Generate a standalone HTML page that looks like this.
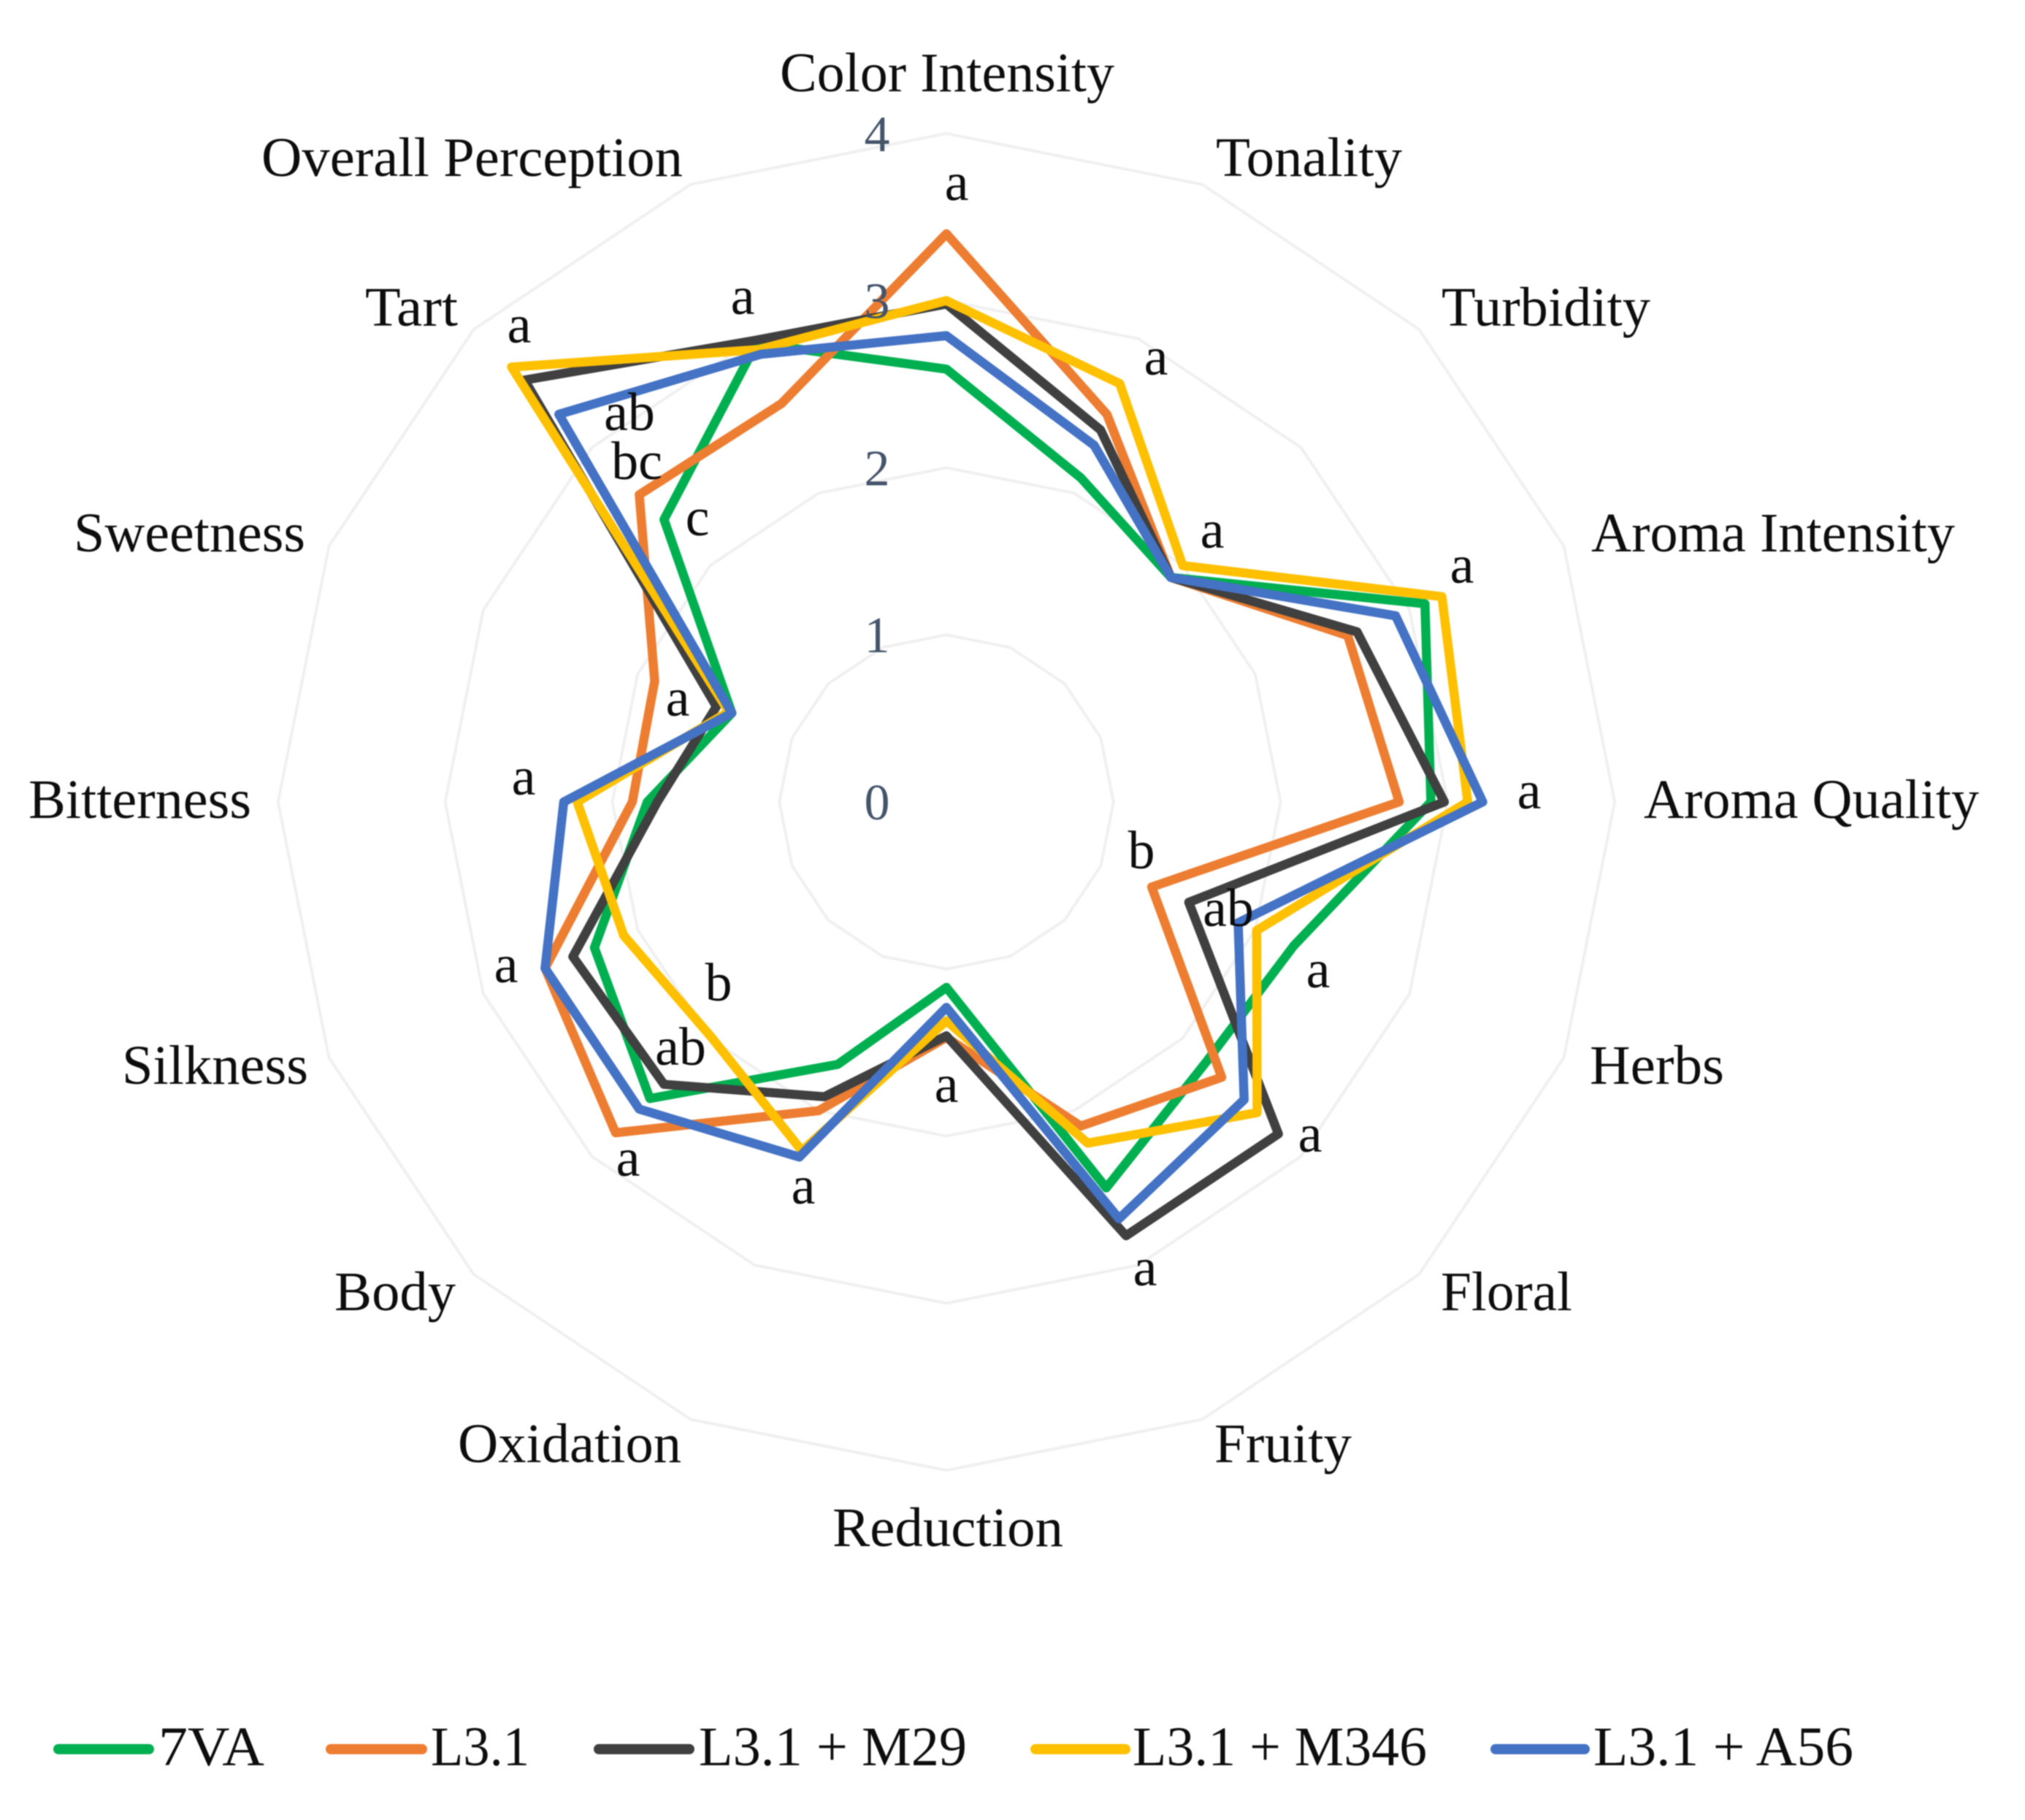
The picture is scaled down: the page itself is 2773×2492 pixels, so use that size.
<!DOCTYPE html>
<html lang="en">
<head>
<meta charset="utf-8">
<title>Sensory radar chart</title>
<style>
html,body{margin:0;padding:0;background:#fff;width:2773px;height:2492px;overflow:hidden}
svg{display:block;filter:blur(0.8px)}
text{font-family:"Liberation Serif",serif;fill:#0d0d0d}
.cat{font-size:76px}
.sig{font-size:74px;text-anchor:middle}
.leg{font-size:76px}
.tick{font-size:70px;text-anchor:middle;fill:#44546A}
</style>
</head>
<body>
<svg id="chart" xmlns="http://www.w3.org/2000/svg" width="2773" height="2492" viewBox="0 0 2773 2492">
  <rect width="2773" height="2492" fill="#fff"/>
  <g id="grid"></g>
  <g id="series"></g>
  <g id="ticks"></g>

  <g>
    <text class="cat" x="1068" y="125" textLength="458" lengthAdjust="spacingAndGlyphs">Color Intensity</text>
    <text class="cat" x="1665" y="241" textLength="255" lengthAdjust="spacingAndGlyphs">Tonality</text>
    <text class="cat" x="1974" y="446" textLength="286" lengthAdjust="spacingAndGlyphs">Turbidity</text>
    <text class="cat" x="2179" y="755" textLength="498" lengthAdjust="spacingAndGlyphs">Aroma Intensity</text>
    <text class="cat" x="2251" y="1120" textLength="459" lengthAdjust="spacingAndGlyphs">Aroma Quality</text>
    <text class="cat" x="2177" y="1484" textLength="184" lengthAdjust="spacingAndGlyphs">Herbs</text>
    <text class="cat" x="1973" y="1794" textLength="180" lengthAdjust="spacingAndGlyphs">Floral</text>
    <text class="cat" x="1663" y="2002" textLength="188" lengthAdjust="spacingAndGlyphs">Fruity</text>
    <text class="cat" x="1140" y="2117" textLength="316" lengthAdjust="spacingAndGlyphs">Reduction</text>
    <text class="cat" x="627" y="2002" textLength="306" lengthAdjust="spacingAndGlyphs">Oxidation</text>
    <text class="cat" x="458" y="1794" textLength="166" lengthAdjust="spacingAndGlyphs">Body</text>
    <text class="cat" x="167" y="1484" textLength="255" lengthAdjust="spacingAndGlyphs">Silkness</text>
    <text class="cat" x="39" y="1120" textLength="305" lengthAdjust="spacingAndGlyphs">Bitterness</text>
    <text class="cat" x="101" y="755" textLength="317" lengthAdjust="spacingAndGlyphs">Sweetness</text>
    <text class="cat" x="500" y="446" textLength="127" lengthAdjust="spacingAndGlyphs">Tart</text>
    <text class="cat" x="358" y="241" textLength="577" lengthAdjust="spacingAndGlyphs">Overall Perception</text>
  </g>

  <g>
    <text class="sig" x="1310" y="274">a</text>
    <text class="sig" x="1583" y="513">a</text>
    <text class="sig" x="1660" y="750">a</text>
    <text class="sig" x="2002" y="798">a</text>
    <text class="sig" x="2094" y="1107">a</text>
    <text class="sig" x="1563" y="1189">b</text>
    <text class="sig" x="1682" y="1268">ab</text>
    <text class="sig" x="1805" y="1352">a</text>
    <text class="sig" x="1794" y="1577">a</text>
    <text class="sig" x="1568" y="1760">a</text>
    <text class="sig" x="1296" y="1509">a</text>
    <text class="sig" x="1100" y="1648">a</text>
    <text class="sig" x="860" y="1610">a</text>
    <text class="sig" x="693" y="1345">a</text>
    <text class="sig" x="932" y="1458">ab</text>
    <text class="sig" x="984" y="1370">b</text>
    <text class="sig" x="717" y="1088">a</text>
    <text class="sig" x="928" y="980">a</text>
    <text class="sig" x="955" y="733">c</text>
    <text class="sig" x="872" y="656">bc</text>
    <text class="sig" x="862" y="589">ab</text>
    <text class="sig" x="1017" y="430">a</text>
    <text class="sig" x="711" y="469">a</text>
  </g>

  <g>
    <g>
      <line x1="80" y1="2395" x2="204" y2="2395" stroke="#00B050" stroke-width="14" stroke-linecap="round"/>
      <text class="leg" x="217" y="2417" textLength="145" lengthAdjust="spacingAndGlyphs">7VA</text>
    </g>
    <g>
      <line x1="453" y1="2395" x2="578" y2="2395" stroke="#ED7D31" stroke-width="14" stroke-linecap="round"/>
      <text class="leg" x="590" y="2417" textLength="135" lengthAdjust="spacingAndGlyphs">L3.1</text>
    </g>
    <g>
      <line x1="820" y1="2395" x2="944" y2="2395" stroke="#404040" stroke-width="14" stroke-linecap="round"/>
      <text class="leg" x="957" y="2417" textLength="367" lengthAdjust="spacingAndGlyphs">L3.1 + M29</text>
    </g>
    <g>
      <line x1="1418" y1="2395" x2="1541" y2="2395" stroke="#FFC000" stroke-width="14" stroke-linecap="round"/>
      <text class="leg" x="1551" y="2417" textLength="403" lengthAdjust="spacingAndGlyphs">L3.1 + M346</text>
    </g>
    <g>
      <line x1="2048" y1="2395" x2="2170" y2="2395" stroke="#4472C4" stroke-width="14" stroke-linecap="round"/>
      <text class="leg" x="2182" y="2417" textLength="356" lengthAdjust="spacingAndGlyphs">L3.1 + A56</text>
    </g>
  </g>
</svg>
<script>
// Chart data
const categories = ["Color Intensity","Tonality","Turbidity","Aroma Intensity","Aroma Quality","Herbs","Floral","Fruity","Reduction","Oxidation","Body","Silkness","Bitterness","Sweetness","Tart","Overall Perception"];
const radialTicks = [0, 1, 2, 3, 4];
const seriesNames = ["7VA", "L3.1", "L3.1 + M29", "L3.1 + M346", "L3.1 + A56"];
const seriesColors = ["#00B050", "#ED7D31", "#404040", "#FFC000", "#4472C4"];
const values7VA  = [2.59,2.10,1.90,3.10,2.90,2.25,2.20,2.50,1.11,1.70,2.51,2.28,1.79,1.39,2.39,2.97];
const valuesL31  = [3.40,2.51,1.90,2.60,2.71,1.33,2.33,2.10,1.41,2.00,2.80,2.60,1.88,1.89,2.60,2.58];
const valuesM29  = [2.98,2.41,1.90,2.66,2.98,1.57,2.81,2.81,1.40,1.91,2.39,2.42,1.73,1.49,3.57,2.99];
const valuesM346 = [3.00,2.71,2.00,3.21,3.12,2.01,2.63,2.21,1.31,2.26,1.99,2.09,2.21,1.41,3.68,2.93];
const valuesA56  = [2.79,2.31,1.90,2.91,3.21,1.89,2.52,2.70,1.23,2.30,2.60,2.60,2.29,1.39,3.28,2.90];
const seriesValues = [values7VA, valuesL31, valuesM29, valuesM346, valuesA56];

const SVGNS = "http://www.w3.org/2000/svg";
const cx = 1296, cy = 1098, unit = 228.8;
function angleOf(i) { return (i / categories.length) * 2 * Math.PI; }
function radiusOf(v) { return v * unit; }
function px(i, v) { return cx + radiusOf(v) * Math.sin(angleOf(i)); }
function py(i, v) { return cy - radiusOf(v) * Math.cos(angleOf(i)); }
function pointsFor(vals) {
  return vals.map(function (v, i) { return px(i, v).toFixed(1) + "," + py(i, v).toFixed(1); }).join(" ");
}

const gridGroup = document.getElementById("grid");
const seriesGroup = document.getElementById("series");
const tickGroup = document.getElementById("ticks");

radialTicks.forEach(function (t) {
  if (t > 0) {
    const ring = document.createElementNS(SVGNS, "polygon");
    
    
    ring.setAttribute("points", pointsFor(categories.map(function () { return t; })));
    ring.setAttribute("fill", "none");
    ring.setAttribute("stroke", "#f0f0f0");
    ring.setAttribute("stroke-width", "4");
    gridGroup.appendChild(ring);
  }
});

seriesValues.forEach(function (vals, s) {
  const line = document.createElementNS(SVGNS, "polygon");
  
  
  line.setAttribute("points", pointsFor(vals));
  line.setAttribute("fill", "none");
  line.setAttribute("stroke", seriesColors[s]);
  line.setAttribute("stroke-width", "12.5");
  line.setAttribute("stroke-linejoin", "round");
  const title = document.createElementNS(SVGNS, "title");
  title.textContent = seriesNames[s];
  line.appendChild(title);
  seriesGroup.appendChild(line);
});

radialTicks.forEach(function (t) {
  const label = document.createElementNS(SVGNS, "text");
  
  
  label.setAttribute("class", "tick");
  label.setAttribute("x", cx - 95);
  label.setAttribute("y", cy - radiusOf(t) + 24);
  label.textContent = String(t);
  tickGroup.appendChild(label);
});
</script>
</body>
</html>
